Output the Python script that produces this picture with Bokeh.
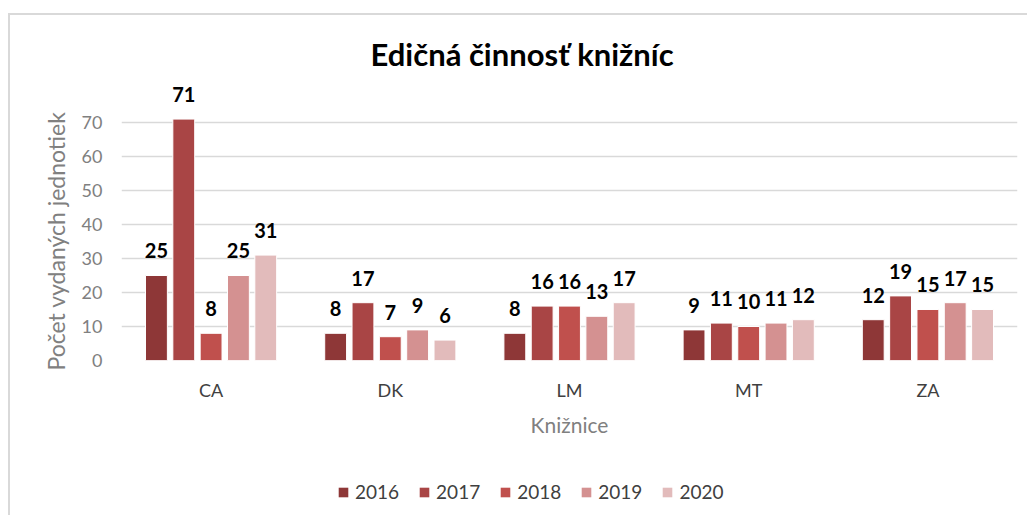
from bokeh.plotting import figure
from bokeh.layouts import column
from bokeh.models import ColumnDataSource, FactorRange, FixedTicker, Legend, LegendItem, LabelSet, Title, Range1d
from bokeh.transform import dodge
from bokeh.core.properties import value
from bokeh.embed import file_html
from bokeh.resources import INLINE

cats = ["CA", "DK", "LM", "MT", "ZA"]
years = ["2016", "2017", "2018", "2019", "2020"]
v2016 = [25, 8, 8, 9, 12]
v2017 = [71, 17, 16, 11, 19]
v2018 = [8, 7, 16, 10, 15]
v2019 = [25, 9, 13, 11, 17]
v2020 = [31, 6, 17, 12, 15]
yticks = [0, 10, 20, 30, 40, 50, 60, 70]
title_text = "Edičná činnosť knižníc"
ylabel = "Počet vydaných jednotiek"
xlabel = "Knižnice"

colors = ["#8E3737", "#A94545", "#C0504D", "#D49191", "#E2BBBB"]
offsets = [-0.305, -0.1525, 0.0, 0.1525, 0.305]
series = [v2016, v2017, v2018, v2019, v2020]

FONT = "Lato"
GRAY = "#808080"

p = figure(width=1017, height=450, output_backend="svg", toolbar_location=None,
           x_range=FactorRange(factors=cats), y_range=(0, 82.35),
           min_border_left=111, min_border_right=10, min_border_top=65,
           min_border_bottom=105)
p.outline_line_color = None
p.background_fill_color = "white"
p.border_fill_color = "white"

p.title.text = title_text
p.title.align = "left"
p.title.offset = 249
p.title.standoff = 16
p.title.text_font = FONT
p.title.text_font_style = "bold"
p.title.text_font_size = "31px"
p.title.text_color = "black"

for yr, vals, col, off in zip(years, series, colors, offsets):
    src = ColumnDataSource(dict(cat=cats, val=vals, lab=[str(v) for v in vals]))
    p.vbar(x=dodge("cat", off, range=p.x_range), top="val", width=0.122,
           source=src, fill_color=col, line_color="white", line_width=1)
    ls = LabelSet(x=dodge("cat", off, range=p.x_range), y="val", text="lab", source=src,
                  text_align="center", text_baseline="bottom", y_offset=17,
                  text_font=value(FONT), text_font_style="bold", text_font_size="20px",
                  text_color="black")
    p.add_layout(ls)

# axes
p.yaxis.ticker = FixedTicker(ticks=yticks)
p.yaxis.axis_line_color = None
p.yaxis.major_tick_line_color = None
p.yaxis.minor_tick_line_color = None
p.yaxis.major_tick_out = 0
p.yaxis.major_label_standoff = 19
p.yaxis.major_label_text_font = FONT
p.yaxis.major_label_text_font_size = "18px"
p.yaxis.major_label_text_color = GRAY

ytitle = Title(text=ylabel, align="left", offset=-10, standoff=18,
               text_font=FONT, text_font_style="normal", text_font_size="23px",
               text_color=GRAY)
p.add_layout(ytitle, "left")

p.xaxis.axis_line_color = None
p.xaxis.major_tick_line_color = None
p.xaxis.major_tick_out = 0
p.xaxis.major_label_standoff = 18
p.xaxis.major_label_text_font = FONT
p.xaxis.major_label_text_font_size = "18px"
p.xaxis.major_label_text_color = "#404040"
p.xaxis.axis_label = xlabel
p.xaxis.axis_label_text_font = FONT
p.xaxis.axis_label_text_font_style = "normal"
p.xaxis.axis_label_text_font_size = "21px"
p.xaxis.axis_label_text_color = GRAY
p.xaxis.axis_label_standoff = 8

p.xgrid.grid_line_color = None
p.ygrid.grid_line_color = "#D9D9D9"
p.ygrid.grid_line_width = 1.5

# legend strip below the chart (swatch glyphs sit outside the visible range)
lg = figure(width=1017, height=50, output_backend="svg", toolbar_location=None,
            x_range=Range1d(0, 1), y_range=Range1d(0, 1),
            min_border=0, x_axis_location=None, y_axis_location=None)
lg.outline_line_color = None
lg.xgrid.grid_line_color = None
lg.ygrid.grid_line_color = None
items = []
for yr, col in zip(years, colors):
    r = lg.rect(x=[-5], y=[-5], width=0.1, height=0.1, fill_color=col, line_color=None)
    items.append(LegendItem(label=yr, renderers=[r]))
legend = Legend(items=items, orientation="horizontal", location=(216, 12),
                border_line_color=None, background_fill_alpha=0, padding=0,
                spacing=19, label_standoff=6, glyph_width=12, glyph_height=12,
                label_text_font=FONT, label_text_font_size="19px",
                label_text_color="#404040", margin=0)
lg.add_layout(legend, "center")

layout = column(p, lg, spacing=0)
layout.margin = (13, 0, 0, 8)
layout.styles = {"border-top": "2px solid #D9D9D9", "border-left": "2px solid #D9D9D9"}

open("out.html", "w").write(file_html(layout, INLINE))
